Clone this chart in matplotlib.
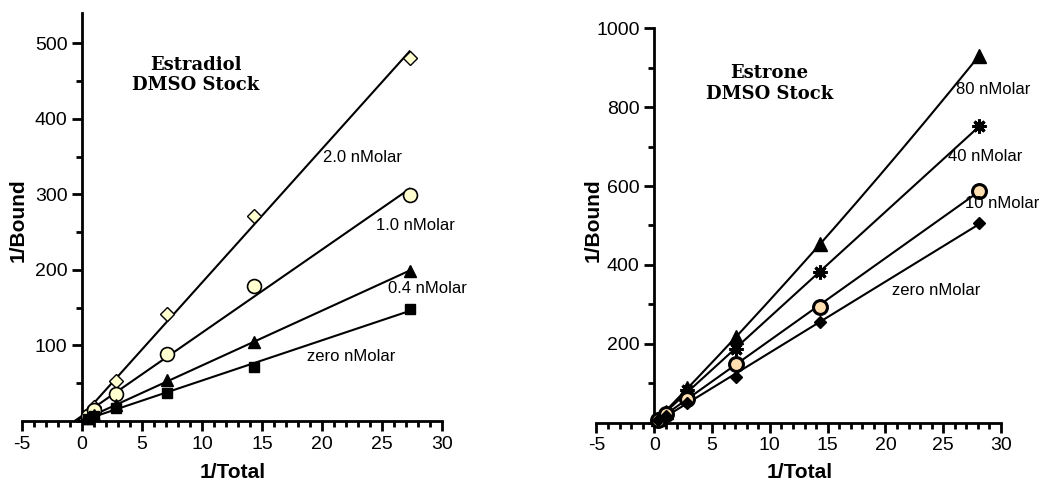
import numpy as np
import matplotlib
matplotlib.use('Agg')
from matplotlib import pyplot as plt
from matplotlib.ticker import MultipleLocator, FixedLocator

plt.rcParams['axes.unicode_minus'] = False

# Estradiol panel
x_left = [0.5, 1.0, 2.8, 7.1, 14.3, 27.3]
estradiol = {
    '2.0 nMolar': [9, 19, 53, 142, 271, 481],
    '1.0 nMolar': [7, 15, 36, 88, 179, 299],
    '0.4 nMolar': [4, 8, 21, 54, 104, 199],
    'zero nMolar': [3, 7, 17, 37, 72, 148],
}
estradiol_label_pos = {
    '2.0 nMolar': (23.4, 349),
    '1.0 nMolar': (27.8, 259),
    '0.4 nMolar': (28.75, 176),
    'zero nMolar': (22.4, 86),
}

# Estrone panel
x_right = [0.3, 1.0, 2.8, 7.1, 14.3, 28.1]
estrone = {
    '80 nMolar': [10, 27, 89, 216, 452, 930],
    '40 nMolar': [9, 24, 83, 186, 383, 751],
    '10 nMolar': [8, 21, 59, 149, 294, 588],
    'zero nMolar': [7, 17, 51, 115, 256, 505],
}
estrone_label_pos = {
    '80 nMolar': (29.3, 845),
    '40 nMolar': (28.6, 675),
    '10 nMolar': (30.1, 555),
    'zero nMolar': (24.4, 335),
}

sans = ['Liberation Sans', 'DejaVu Sans']

left_style = {
    '2.0 nMolar': dict(marker='D', ms=7, mfc='#ffffd0', mec='black', mew=1.0),
    '1.0 nMolar': dict(marker='o', ms=10, mfc='#ffffd0', mec='black', mew=1.2),
    '0.4 nMolar': dict(marker='^', ms=8, mfc='black', mec='black', mew=1.0),
    'zero nMolar': dict(marker='s', ms=7, mfc='black', mec='black', mew=1.0),
}
right_style = {
    '80 nMolar': dict(marker='^', ms=10, mfc='black', mec='black', mew=1.0),
    '40 nMolar': dict(marker=(8, 2, 0), ms=10, mfc='black', mec='black', mew=2.2),
    '10 nMolar': dict(marker='o', ms=10, mfc='#ffdfb0', mec='black', mew=2.2),
    'zero nMolar': dict(marker='D', ms=6, mfc='black', mec='black', mew=1.0),
}


def setup_axes(ax, ymax, ymajor, yminor):
    ax.set_xlim(-5, 30)
    ax.set_ylim(0, ymax)
    for side in ['top', 'right']:
        ax.spines[side].set_visible(False)
    ax.spines['left'].set_position(('data', 0))
    ax.spines['bottom'].set_position(('data', 0))
    ax.spines['left'].set_linewidth(2)
    ax.spines['bottom'].set_linewidth(2)
    ax.xaxis.set_major_locator(MultipleLocator(5))
    ax.xaxis.set_minor_locator(MultipleLocator(1))
    ax.yaxis.set_major_locator(FixedLocator(list(range(ymajor, ymax + 1, ymajor))))
    ax.yaxis.set_minor_locator(MultipleLocator(yminor))
    ax.tick_params(which='major', direction='out', length=7, width=2,
                   labelsize=14)
    ax.tick_params(which='minor', direction='out', length=4, width=2)
    for lab in ax.get_xticklabels() + ax.get_yticklabels():
        lab.set_family(sans)


def draw_panel(ax, xs, series, styles, label_pos, quad=()):
    xs = np.array(xs)
    for name, ys in series.items():
        ys = np.array(ys)
        deg = 2 if name in quad else 1
        coef = np.polyfit(xs, ys, deg)
        if deg == 1:
            x0 = max(-coef[1] / coef[0], -1.0)
        else:
            x0 = 0.0
        xx = np.linspace(x0, xs.max(), 200)
        ax.plot(xx, np.polyval(coef, xx), '-', c='black', lw=1.5, zorder=2)
        ax.plot(xs, ys, ls='none', zorder=3, clip_on=False, **styles[name])
        lx, ly = label_pos[name]
        ax.text(lx, ly, name, ha='center', va='center', fontsize=12,
                family=sans)


fig = plt.figure(figsize=(10.39, 4.84), dpi=100)
ax1 = fig.add_axes([0.0212, 0.1302, 0.4042, 0.843])
ax2 = fig.add_axes([0.5741, 0.1267, 0.3893, 0.8149])

setup_axes(ax1, 540, 100, 50)
setup_axes(ax2, 1000, 200, 100)

draw_panel(ax1, x_left, estradiol, left_style, estradiol_label_pos)
draw_panel(ax2, x_right, estrone, right_style, estrone_label_pos,
           quad=('80 nMolar',))

ax1.text(9.5, 458, 'Estradiol\nDMSO Stock', ha='center', va='center',
         fontsize=13, fontweight='bold', family='DejaVu Serif',
         linespacing=1.2)
ax2.text(9.95, 860, 'Estrone\nDMSO Stock', ha='center', va='center',
         fontsize=13, fontweight='bold', family='DejaVu Serif',
         linespacing=1.2)

for xl, xt in [(0.0173, 0.224), (0.571, 0.770)]:
    fig.text(xl, 0.545, '1/Bound', rotation=90, ha='center', va='center',
             fontsize=15, fontweight='bold', family=sans)
    fig.text(xt, 0.023, '1/Total', ha='center', va='center',
             fontsize=15, fontweight='bold', family=sans)

fig.savefig('out.png', dpi=100)
